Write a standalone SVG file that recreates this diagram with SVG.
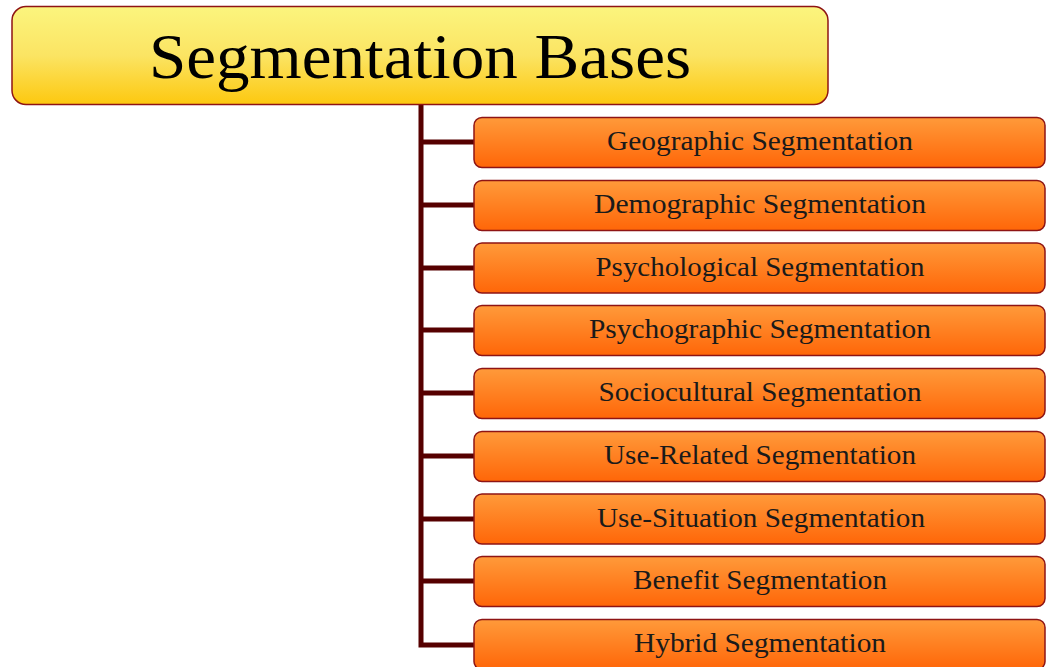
<svg xmlns="http://www.w3.org/2000/svg" width="1047" height="667" viewBox="0 0 1047 667">
<defs>
<linearGradient id="gTitle" x1="0" y1="0" x2="0" y2="1">
<stop offset="0" stop-color="#fbf57e"/>
<stop offset="0.5" stop-color="#fbe463"/>
<stop offset="1" stop-color="#fdc80f"/>
</linearGradient>
<linearGradient id="gBox" x1="0" y1="0" x2="0" y2="1">
<stop offset="0" stop-color="#ff9a3a"/>
<stop offset="1" stop-color="#ff6608"/>
</linearGradient>
</defs>
<style>
.box{fill:url(#gBox);stroke:#8e1414;stroke-width:1.5}
.lbl{font-family:"Liberation Serif","Times New Roman",serif;font-size:27px;fill:#1a1a1a;text-anchor:middle}
.conn{stroke:#560000;stroke-width:5;fill:none}
</style>
<g id="connectors">
<path class="conn" d="M421,105 V645 H474"/>
<path class="conn" d="M421,142 H474 M421,205 H474 M421,268 H474 M421,330 H474 M421,393 H474 M421,456 H474 M421,519 H474 M421,581 H474"/>
</g>
<g id="title">
<rect x="12" y="6.5" width="816" height="98" rx="14" fill="url(#gTitle)" stroke="#8e1414" stroke-width="1.5"/>
<text x="420" y="78" font-family="Liberation Serif, Times New Roman, serif" font-size="64" fill="#000" text-anchor="middle" textLength="542" lengthAdjust="spacingAndGlyphs">Segmentation Bases</text>
</g>
<g id="n1"><rect class="box" x="474" y="117.5" width="571" height="50" rx="8"/><text class="lbl" x="760" y="150" textLength="306" lengthAdjust="spacingAndGlyphs">Geographic Segmentation</text></g>
<g id="n2"><rect class="box" x="474" y="180.5" width="571" height="50" rx="8"/><text class="lbl" x="760" y="213" textLength="332" lengthAdjust="spacingAndGlyphs">Demographic Segmentation</text></g>
<g id="n3"><rect class="box" x="474" y="243" width="571" height="50" rx="8"/><text class="lbl" x="760" y="276" textLength="329" lengthAdjust="spacingAndGlyphs">Psychological Segmentation</text></g>
<g id="n4"><rect class="box" x="474" y="305.5" width="571" height="50" rx="8"/><text class="lbl" x="760" y="338" textLength="342" lengthAdjust="spacingAndGlyphs">Psychographic Segmentation</text></g>
<g id="n5"><rect class="box" x="474" y="368.5" width="571" height="50" rx="8"/><text class="lbl" x="760" y="401" textLength="323" lengthAdjust="spacingAndGlyphs">Sociocultural Segmentation</text></g>
<g id="n6"><rect class="box" x="474" y="431.5" width="571" height="50" rx="8"/><text class="lbl" x="760" y="464" textLength="312" lengthAdjust="spacingAndGlyphs">Use-Related Segmentation</text></g>
<g id="n7"><rect class="box" x="474" y="494" width="571" height="50" rx="8"/><text class="lbl" x="761" y="527" textLength="328" lengthAdjust="spacingAndGlyphs">Use-Situation Segmentation</text></g>
<g id="n8"><rect class="box" x="474" y="556.5" width="571" height="50" rx="8"/><text class="lbl" x="760" y="589" textLength="254" lengthAdjust="spacingAndGlyphs">Benefit Segmentation</text></g>
<g id="n9"><rect class="box" x="474" y="619.5" width="571" height="50" rx="8"/><text class="lbl" x="760" y="652" textLength="252" lengthAdjust="spacingAndGlyphs">Hybrid Segmentation</text></g>
</svg>
